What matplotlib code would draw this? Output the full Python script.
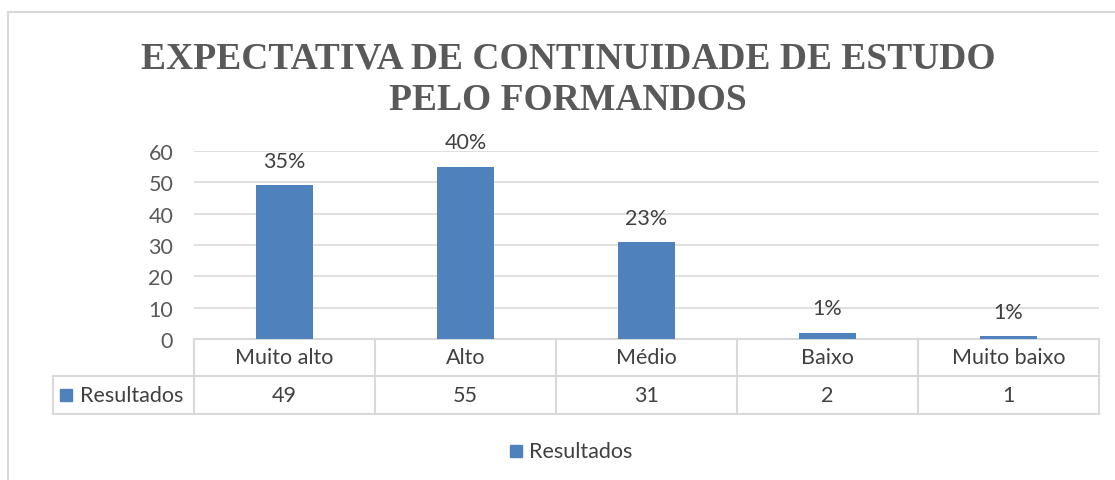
import numpy as np
import matplotlib.pyplot as plt
from matplotlib.transforms import blended_transform_factory
from matplotlib.patches import Rectangle

# dados
categorias = ['Muito alto', 'Alto', 'Médio', 'Baixo', 'Muito baixo']
resultados = [49, 55, 31, 2, 1]
percentuais = ['35%', '40%', '23%', '1%', '1%']
serie = 'Resultados'
titulo = 'EXPECTATIVA DE CONTINUIDADE DE ESTUDO\nPELO FORMANDOS'

azul = '#4F81BD'
cinza = '#D9D9D9'
texto = '#404040'
fs = 15.5

plt.rcParams['font.family'] = ['Lato', 'DejaVu Sans']

W, H = 1115, 481
fig = plt.figure(figsize=(W / 100, H / 100), dpi=100)

# moldura do grafico (so topo e esquerda aparecem)
fig.add_artist(plt.Line2D([8 / W, 1], [1 - 13 / H, 1 - 13 / H], color=cinza, lw=1.5))
fig.add_artist(plt.Line2D([8 / W, 8 / W], [0, 1 - 13 / H], color=cinza, lw=1.5))

fig.text(568 / W, 1 - 80 / H, titulo, ha='center', va='center', fontsize=27,
         fontweight='bold', family='Liberation Serif', color='#595959',
         linespacing=1.25)

ax = fig.add_axes([194 / W, 141 / H, 905 / W, 188 / H])
x = np.arange(len(categorias))
ax.bar(x, resultados, width=0.31, color=azul, zorder=3)
ax.set_xlim(-0.5, len(categorias) - 0.5)
ax.set_ylim(0, 60)
ax.set_yticks(range(0, 61, 10))
ax.set_xticks([])
ax.grid(axis='y', color=cinza, lw=1.2, zorder=0)
for s in ax.spines.values():
    s.set_visible(False)
ax.tick_params(axis='y', length=0, pad=15, labelsize=fs, labelcolor='#595959')

for xi, v, p in zip(x, resultados, percentuais):
    ax.annotate(p, (xi, v), xytext=(0, 17.5), textcoords='offset points',
                ha='center', va='center', fontsize=fs, color=texto)

# tabela de dados
tr = blended_transform_factory(ax.transData, ax.transAxes)
r1 = -37 / 188
r2 = -75 / 188
xe = -0.5 - 141 / 181
bordas = np.arange(len(categorias) + 1) - 0.5
kw = dict(color=cinza, lw=1.5, transform=tr, clip_on=False)
ax.plot([bordas[0], bordas[-1]], [0, 0], **kw)
ax.plot([xe, bordas[-1]], [r1, r1], **kw)
ax.plot([xe, bordas[-1]], [r2, r2], **kw)
for b in bordas:
    ax.plot([b, b], [0, r2], **kw)
ax.plot([xe, xe], [r1, r2], **kw)

for xi, c, v in zip(x, categorias, resultados):
    ax.text(xi, r1 / 2, c, transform=tr, ha='center', va='center',
            fontsize=fs, color=texto)
    ax.text(xi, (r1 + r2) / 2, str(v), transform=tr, ha='center',
            va='center', fontsize=fs, color=texto)

ax.add_patch(Rectangle((xe + 7 / 181, (r1 + r2) / 2 - 6 / 188), 12 / 181, 12 / 188,
                       color=azul, transform=tr, clip_on=False))
ax.text(xe + 27 / 181, (r1 + r2) / 2, serie, transform=tr, ha='left',
        va='center', fontsize=fs, color=texto)

# legenda
fig.patches.append(Rectangle((510 / W, 1 - 458 / H), 12 / W, 12 / H,
                             color=azul, transform=fig.transFigure))
fig.text(529 / W, 1 - 452 / H, serie, ha='left', va='center', fontsize=fs,
         color=texto)

fig.savefig('out.png', dpi=100)
